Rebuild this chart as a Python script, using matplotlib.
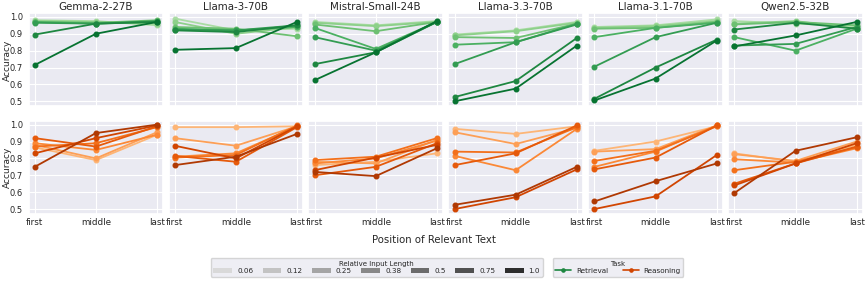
import numpy as np
import matplotlib
matplotlib.use("Agg")
import matplotlib.pyplot as plt
import seaborn as sns
from matplotlib.patches import Patch
from matplotlib.lines import Line2D

sns.set_theme(style="darkgrid")
plt.rcParams['font.family'] = ['DejaVu Sans']

models = ["Gemma-2-27B", "Llama-3-70B", "Mistral-Small-24B", "Llama-3.3-70B", "Llama-3.1-70B", "Qwen2.5-32B"]
positions = ["first", "middle", "last"]
lengths = ["0.06", "0.12", "0.25", "0.38", "0.5", "0.75", "1.0"]

# accuracy[model] -> one row per relative input length (first, middle, last)
retrieval = {
    "Gemma-2-27B": [[0.98, 0.975, 0.95], [0.975, 0.97, 0.96], [0.97, 0.965, 0.98], [0.97, 0.96, 0.97],
                    [0.965, 0.96, 0.975], [0.895, 0.96, 0.97], [0.715, 0.90, 0.97]],
    "Llama-3-70B": [[0.99, 0.92, 0.93], [0.97, 0.90, 0.94], [0.94, 0.93, 0.885], [0.93, 0.92, 0.94],
                    [0.925, 0.92, 0.95], [0.92, 0.91, 0.95], [0.805, 0.815, 0.97]],
    "Mistral-Small-24B": [[0.97, 0.95, 0.975], [0.965, 0.945, 0.97], [0.955, 0.915, 0.97], [0.935, 0.81, 0.97],
                          [0.88, 0.80, 0.97], [0.72, 0.79, 0.97], [0.625, 0.79, 0.975]],
    "Llama-3.3-70B": [[0.895, 0.92, 0.97], [0.89, 0.915, 0.965], [0.88, 0.875, 0.96], [0.835, 0.85, 0.96],
                      [0.72, 0.85, 0.955], [0.525, 0.62, 0.875], [0.50, 0.575, 0.83]],
    "Llama-3.1-70B": [[0.94, 0.95, 0.985], [0.935, 0.945, 0.975], [0.93, 0.935, 0.97], [0.88, 0.935, 0.965],
                      [0.705, 0.88, 0.965], [0.515, 0.70, 0.865], [0.505, 0.635, 0.86]],
    "Qwen2.5-32B": [[0.975, 0.96, 0.945], [0.96, 0.975, 0.93], [0.955, 0.97, 0.95], [0.88, 0.80, 0.93],
                    [0.83, 0.84, 0.94], [0.925, 0.965, 0.93], [0.825, 0.89, 0.97]],
}
reasoning = {
    "Gemma-2-27B": [[0.865, 0.79, 0.94], [0.88, 0.80, 0.955], [0.89, 0.85, 0.94], [0.87, 0.89, 0.985],
                    [0.92, 0.87, 0.99], [0.83, 0.92, 0.995], [0.75, 0.95, 1.0]],
    "Llama-3-70B": [[0.985, 0.985, 0.99], [0.92, 0.875, 0.99], [0.81, 0.83, 0.99], [0.805, 0.82, 0.995],
                    [0.815, 0.78, 0.985], [0.875, 0.80, 0.99], [0.76, 0.81, 0.945]],
    "Mistral-Small-24B": [[0.76, 0.78, 0.83], [0.78, 0.77, 0.91], [0.77, 0.80, 0.905], [0.79, 0.81, 0.92],
                          [0.70, 0.75, 0.89], [0.73, 0.805, 0.88], [0.72, 0.695, 0.86]],
    "Llama-3.3-70B": [[0.975, 0.945, 0.99], [0.955, 0.885, 0.98], [0.815, 0.73, 0.975], [0.84, 0.835, 0.985],
                      [0.76, 0.83, 0.995], [0.50, 0.57, 0.735], [0.525, 0.585, 0.75]],
    "Llama-3.1-70B": [[0.845, 0.90, 0.99], [0.84, 0.855, 0.995], [0.75, 0.84, 0.995], [0.785, 0.845, 0.99],
                      [0.735, 0.805, 0.995], [0.50, 0.575, 0.82], [0.545, 0.665, 0.77]],
    "Qwen2.5-32B": [[0.83, 0.78, 0.88], [0.825, 0.785, 0.90], [0.795, 0.775, 0.86], [0.73, 0.78, 0.865],
                    [0.65, 0.77, 0.87], [0.64, 0.77, 0.89], [0.595, 0.845, 0.925]],
}

greens = plt.cm.Greens(np.linspace(0.35, 0.85, len(lengths)))
oranges = plt.cm.Oranges(np.linspace(0.35, 0.85, len(lengths)))
greys = plt.cm.Greys(np.linspace(0.25, 0.85, len(lengths)))

fig, axes = plt.subplots(2, 6, figsize=(8.68, 2.81), dpi=100, sharex=True, sharey=True)
fig.subplots_adjust(left=0.033, right=0.994, top=0.952, bottom=0.238, hspace=0.16, wspace=0.04)

x = np.arange(len(positions))
for j, m in enumerate(models):
    for row, (data, cols) in enumerate([(retrieval, greens), (reasoning, oranges)]):
        ax = axes[row, j]
        for k in range(len(lengths)):
            ax.plot(x, data[m][k], marker='o', markersize=3.3, linewidth=1.3, color=cols[k])
        ax.set_ylim(0.47, 1.02)
        ax.set_yticks([0.5, 0.6, 0.7, 0.8, 0.9, 1.0])
        ax.tick_params(axis='y', labelsize=6, length=0, pad=4)
        ax.tick_params(axis='x', labelsize=6.3, length=0, pad=3)
        ax.grid(True, color='white', linewidth=0.8)
    axes[0, j].set_title(m, fontsize=7.4, pad=2.5)

for ax in axes[1]:
    ax.set_xticks(x)
    ax.set_xticklabels(positions)

# y label for each row, placed in figure coordinates
for row in range(2):
    pos = axes[row, 0].get_position()
    fig.text(0.008, (pos.y0 + pos.y1) / 2, "Accuracy", rotation=90, ha='center', va='center', fontsize=6.5)

fig.text(0.5, 0.145, "Position of Relevant Text", ha='center', va='center', fontsize=7.3)

len_handles = [Patch(facecolor=greys[k], edgecolor='none', label=lengths[k]) for k in range(len(lengths))]
leg1 = fig.legend(handles=len_handles, title="Relative Input Length", ncol=7, loc='lower center',
                  bbox_to_anchor=(0.434, 0.003), fontsize=5.2, title_fontsize=5.0, handlelength=2.6,
                  handleheight=0.6, columnspacing=1.3, borderpad=0.35, labelspacing=0.2, handletextpad=0.7)
task_handles = [Line2D([0], [0], color=greens[5], marker='o', markersize=2.3, linewidth=1.2, label="Retrieval"),
                Line2D([0], [0], color=oranges[5], marker='o', markersize=2.3, linewidth=1.2, label="Reasoning")]
leg2 = fig.legend(handles=task_handles, title="Task", ncol=2, loc='lower center',
                  bbox_to_anchor=(0.712, 0.003), fontsize=5.2, title_fontsize=5.0, handlelength=2.2,
                  columnspacing=2.0, borderpad=0.35, labelspacing=0.2, handletextpad=0.7)

fig.savefig("out.png", dpi=100)
